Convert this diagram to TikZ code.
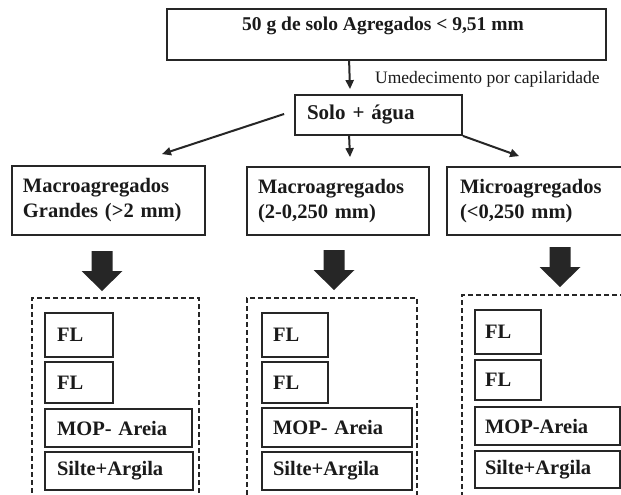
\documentclass[tikz,border=0pt]{standalone}
\usepackage{fontspec}
\setmainfont{Liberation Serif}
\usetikzlibrary{arrows.meta}
\definecolor{linec}{HTML}{262626}
\definecolor{textc}{HTML}{1A1A1A}
\newcommand{\blockdown}[2]{%
  \fill[linec] (#1-10.5,#2) -- (#1+10.5,#2) -- (#1+10.5,#2+20) -- (#1+20.5,#2+20)
    -- (#1,#2+40) -- (#1-20.5,#2+20) -- (#1-10.5,#2+20) -- cycle;}
\tikzset{
  boldtxt/.style={text=textc, font=\bfseries\fontsize{20.5}{25}\selectfont},
  box/.style={draw=linec, line width=1.8pt, inner sep=0pt, boldtxt, align=left},
  ibox/.style={draw=linec, line width=1.6pt, inner sep=0pt, boldtxt, align=left},
  dashbox/.style={draw=linec, line width=1.5pt, dash pattern=on 5pt off 3pt, inner sep=0pt},
  conn/.style={draw=linec, line width=2pt, -{Triangle[length=9pt,width=8pt]}},
}
\begin{document}
\begin{tikzpicture}[x=1pt,y=-1pt]
\useasboundingbox (0,0) rectangle (621,495);
\fill[white] (0,0) rectangle (621,495);
\clip (0,0) rectangle (621,495);

% top box
\node[box, minimum width=439pt, minimum height=51pt] (top) at (386.5,34.5) {};
\node[boldtxt, font=\bfseries\fontsize{19.5}{23}\selectfont, anchor=center] (toptxt) at (383,26) {50 g de solo Agregados < 9,51 mm};

% solo + agua
\node[box, font=\bfseries\fontsize{21}{25}\selectfont, minimum width=167pt, minimum height=40pt, text width=143pt] (solo) at (378.5,115) {Solo + água};

\node[text=textc, font=\fontsize{17.5}{20}\selectfont, anchor=west, inner sep=0pt] (lab) at (375,79) {Umedecimento por capilaridade};

% category boxes
\node[box, minimum width=193pt, minimum height=69pt, text width=171pt] (b1) at (108.5,200.5) {Macroagregados\\Grandes (>2 mm)};
\node[box, minimum width=182pt, minimum height=68pt, text width=160pt] (b2) at (338,201) {Macroagregados\\(2-0,250 mm)};
\node[box, minimum width=193pt, minimum height=68pt, text width=167pt] (b3) at (543.5,201) {Microagregados\\(<0,250 mm)};

% connectors
\draw[conn] ([xshift=183pt]top.south west) -- ([shift={(-28.5,-5)}]solo.north);
\draw[conn] ([shift={(-10,-1)}]solo.west) -- ([shift={(53.5,-11)}]b1.north);
\draw[conn] ([xshift=55pt]solo.south west) -- ([shift={(12,-9)}]b2.north);
\draw[conn] (solo.south east) -- ([shift={(73,-10)}]b3.north west);

% block arrows
\blockdown{102}{251}
\blockdown{334}{250}
\blockdown{560}{247}

% dashed groups
\node[dashbox, minimum width=167pt, minimum height=212pt] (g1) at (115.5,404) {};
\node[dashbox, minimum width=170pt, minimum height=212pt] (g2) at (332,404) {};
\node[dashbox, minimum width=178pt, minimum height=215pt] (g3) at (551,402.5) {};

% column 1
\node[ibox, minimum width=68pt, minimum height=44pt, text width=44pt] (f11) at (79,335) {FL};
\node[ibox, minimum width=68pt, minimum height=41pt, text width=44pt] (f12) at (79,382.5) {FL};
\node[ibox, minimum width=147pt, minimum height=38pt, text width=123pt] (m1) at (118.5,428) {MOP- Areia};
\node[ibox, minimum width=148pt, minimum height=38pt, text width=124pt] (s1) at (119,471) {Silte+Argila};

% column 2
\node[ibox, minimum width=66pt, minimum height=44pt, text width=44pt] (f21) at (295,335) {FL};
\node[ibox, minimum width=66pt, minimum height=41pt, text width=44pt] (f22) at (295,382.5) {FL};
\node[ibox, minimum width=150pt, minimum height=39pt, text width=128pt] (m2) at (337,427.5) {MOP- Areia};
\node[ibox, minimum width=150pt, minimum height=38pt, text width=128pt] (s2) at (337,471) {Silte+Argila};

% column 3
\node[ibox, minimum width=66pt, minimum height=44pt, text width=46pt] (f31) at (508,332) {FL};
\node[ibox, minimum width=66pt, minimum height=40pt, text width=46pt] (f32) at (508,380) {FL};
\node[ibox, minimum width=145pt, minimum height=38pt, text width=125pt] (m3) at (547.5,426) {MOP-Areia};
\node[ibox, minimum width=145pt, minimum height=37pt, text width=125pt] (s3) at (547.5,469.5) {Silte+Argila};
\end{tikzpicture}
\end{document}
